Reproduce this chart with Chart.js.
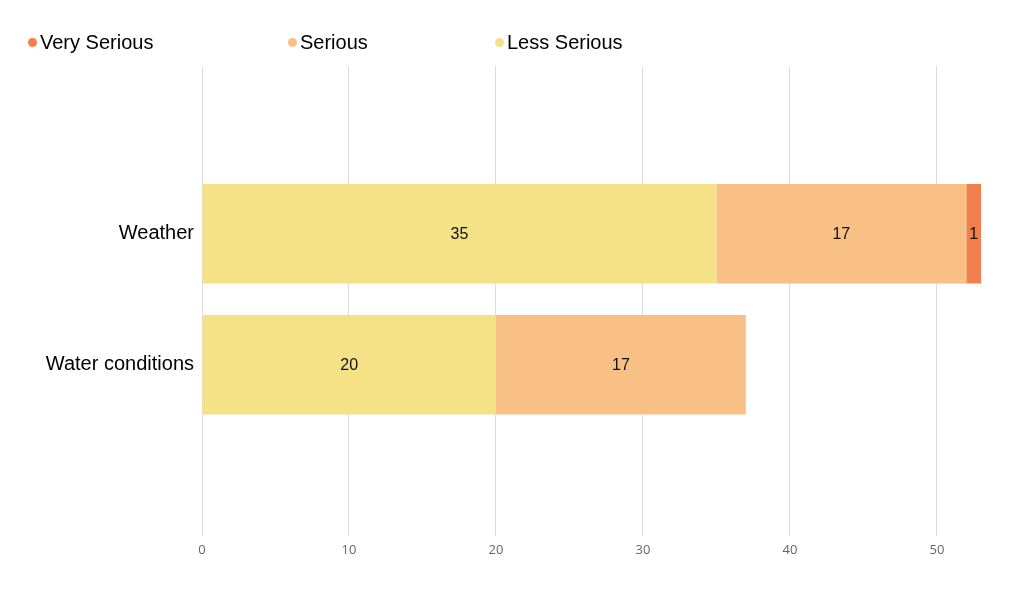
<!DOCTYPE html>
<html>
<head>
<meta charset="utf-8">
<script src="https://cdn.jsdelivr.net/npm/chart.js@4"></script>
<style>
  html, body { margin: 0; padding: 0; background: #fff; }
  #wrap { position: relative; width: 1032px; height: 612px; }
  #legend { position: absolute; top: 0; left: 0; width: 1032px; height: 60px; font-family: "Liberation Sans", Arial, sans-serif; font-size: 20px; color: #000; }
  .item { position: absolute; top: 31px; display: flex; align-items: center; line-height: 23px; white-space: nowrap; }
  .dot { width: 9px; height: 9px; border-radius: 50%; margin-right: 3px; }
</style>
</head>
<body>
<div id="wrap">
  <canvas id="chart" width="1032" height="612"></canvas>
  <div id="legend"></div>
</div>
<script>
// Chart data
const categories = ['Weather', 'Water conditions'];
const lessSerious = [35, 20];
const serious = [17, 17];
const verySerious = [1, 0];
const xTicks = [0, 10, 20, 30, 40, 50];
const xMax = 53;

const colors = {
  verySerious: '#f2804c',
  serious: '#f9c085',
  lessSerious: '#f5e287'
};

// y range around the two rows (rows sit at 0 and 1), leaves empty space like the original
const yMin = -1.28;
const yMax = 2.31;

// Legend (drawn in HTML, order as in the picture)
const legendItems = [
  { label: 'Very Serious', color: colors.verySerious, left: 28 },
  { label: 'Serious', color: colors.serious, left: 288 },
  { label: 'Less Serious', color: colors.lessSerious, left: 495 }
];
document.getElementById('legend').innerHTML = legendItems.map(item => `
  <div class="item" style="left:${item.left}px">
    <span class="dot" style="background:${item.color}"></span>${item.label}
  </div>
`).join('');

function toPoints(values) {
  return values.map((v, i) => ({ x: v, y: i }));
}

// Values printed in the middle of each segment
const barLabels = {
  id: 'barLabels',
  afterDatasetsDraw(chart) {
    const ctx = chart.ctx;
    ctx.save();
    ctx.font = '16px "Liberation Sans", Arial, sans-serif';
    ctx.fillStyle = '#111';
    ctx.textAlign = 'center';
    ctx.textBaseline = 'middle';
    chart.data.datasets.forEach((ds, di) => {
      const meta = chart.getDatasetMeta(di);
      meta.data.forEach((bar, i) => {
        const v = ds.data[i].x;
        if (!v) return;
        const props = bar.getProps(['x', 'y', 'base'], true);
        ctx.fillText(String(v), (props.x + props.base) / 2, props.y + 1);
      });
    });
    ctx.restore();
  }
};

new Chart(document.getElementById('chart').getContext('2d'), {
  type: 'bar',
  data: {
    datasets: [
      { label: 'Less Serious', data: toPoints(lessSerious), backgroundColor: colors.lessSerious, stack: 'all' },
      { label: 'Serious', data: toPoints(serious), backgroundColor: colors.serious, stack: 'all' },
      { label: 'Very Serious', data: toPoints(verySerious), backgroundColor: colors.verySerious, stack: 'all' }
    ]
  },
  options: {
    indexAxis: 'y',
    responsive: false,
    animation: false,
    categoryPercentage: 0.8,
    barPercentage: 0.95,
    layout: { padding: { top: 66, right: 51, bottom: 48, left: 0 } },
    plugins: {
      legend: { display: false },
      tooltip: { enabled: false }
    },
    scales: {
      x: {
        type: 'linear',
        stacked: true,
        min: 0,
        max: xMax,
        afterBuildTicks: scale => { scale.ticks = xTicks.map(v => ({ value: v })); },
        grid: { color: '#dcdcdc', drawTicks: false },
        border: { display: false },
        ticks: {
          padding: 6,
          color: '#666',
          font: { family: '"Open Sans", "Noto Sans", sans-serif', size: 13 }
        }
      },
      y: {
        type: 'linear',
        reverse: true,
        offset: false,
        min: yMin,
        max: yMax,
        afterBuildTicks: scale => {
          scale.ticks = categories.map((c, i) => ({ value: i }));
        },
        afterFit: scale => { scale.width = 202; },
        grid: { display: false, drawTicks: false },
        border: { display: false },
        ticks: {
          padding: 8,
          color: '#000',
          font: { family: '"Liberation Sans", Arial, sans-serif', size: 20 },
          callback: value => categories[value]
        }
      }
    }
  },
  plugins: [barLabels]
});
</script>
</body>
</html>
